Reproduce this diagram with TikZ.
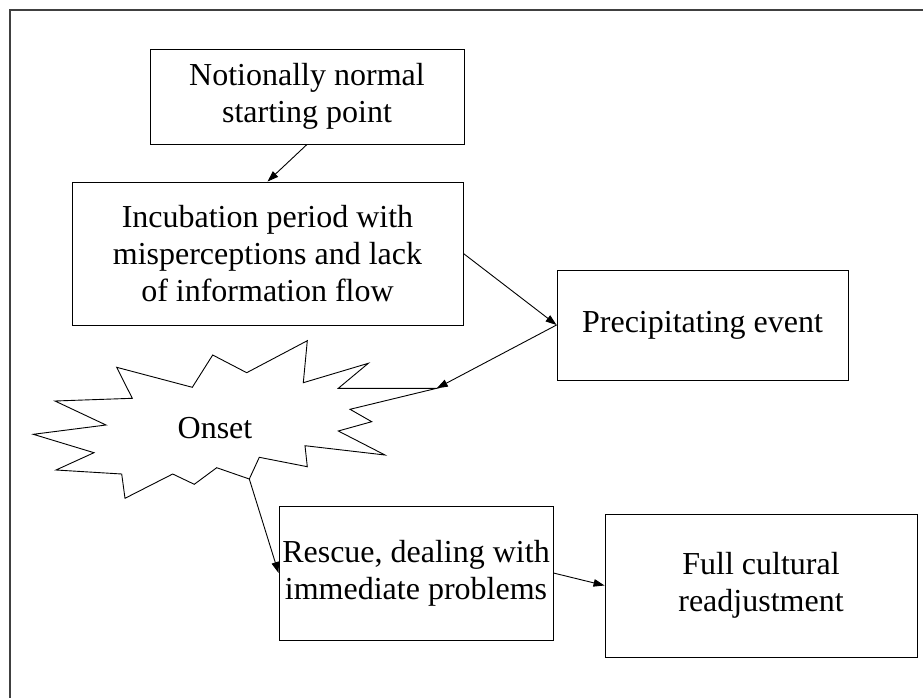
\documentclass[tikz,border=0pt]{standalone}
\usepackage{fontspec}
\setmainfont{Liberation Serif}
\usetikzlibrary{arrows.meta}
\begin{document}
\begin{tikzpicture}[x=1pt,y=-1pt,
  stagebox/.style={draw=black, line width=0.9pt, align=center, inner sep=0pt,
    font=\fontsize{32}{37}\selectfont},
  stagetext/.style={align=center, inner sep=0pt, font=\fontsize{32}{37}\selectfont},
  flow/.style={draw=black, line width=0.9pt, -{Triangle[length=11pt,width=7.5pt]}},
  burst/.style={draw=black, line width=0.9pt, line join=miter},
]
\useasboundingbox (0,0) rectangle (923,698);

% page frame
\draw[black!75, line width=1.5pt] (923,10) -- (10,10) -- (10,698);

% stages
\node[stagebox, minimum width=314pt, minimum height=95pt] (start) at (307,96.5)
  {Notionally normal\\starting point};
\node[stagebox, minimum width=391pt, minimum height=143pt] (incub) at (267.5,253.5)
  {Incubation period with\\misperceptions and lack\\of information flow};
\node[stagebox, minimum width=291pt, minimum height=110pt] (precip) at (702.5,325)
  {Precipitating event};
\node[stagebox, minimum width=274pt, minimum height=134pt] (rescue) at (416,573)
  {Rescue, dealing with\\immediate problems};
\node[stagebox, minimum width=312pt, minimum height=143pt] (readj) at (761,585.5)
  {Full cultural\\readjustment};

% onset starburst
\coordinate (burstTip) at (436.7,388.3);
\coordinate (burstFoot) at (249.3,479);
\draw[burst] (116.7,367.3) -- (132.3,398.3) -- (55,401) -- (106,425) -- (33.3,434.3)
  -- (94,452.7) -- (56,470) -- (121.7,474) -- (125,498.3) -- (172.7,474)
  -- (194.3,484.3) -- (216.7,467.7) -- (burstFoot) -- (259.3,457.3)
  -- (307.3,466.7) -- (305,445.7) -- (385,455) -- (338.3,431) -- (371.7,421.7)
  -- (350,409.3) -- (burstTip) -- (338.3,388.3) -- (368.3,363.3) -- (303.3,382.7)
  -- (307.3,340.7) -- (246.7,372.7) -- (212.7,355) -- (192.3,387.3) -- cycle;
\node[stagetext] (onset) at (215,428) {Onset};

% connectors
\draw[flow] (start.south) -- (incub.north);
\draw[flow] (incub.east) -- (precip.west);
\draw[flow] (precip.west) -- (burstTip);
\draw[flow] (burstFoot) -- (rescue.west);
\draw[flow] (rescue.east) -- (readj.west);
\end{tikzpicture}
\end{document}
